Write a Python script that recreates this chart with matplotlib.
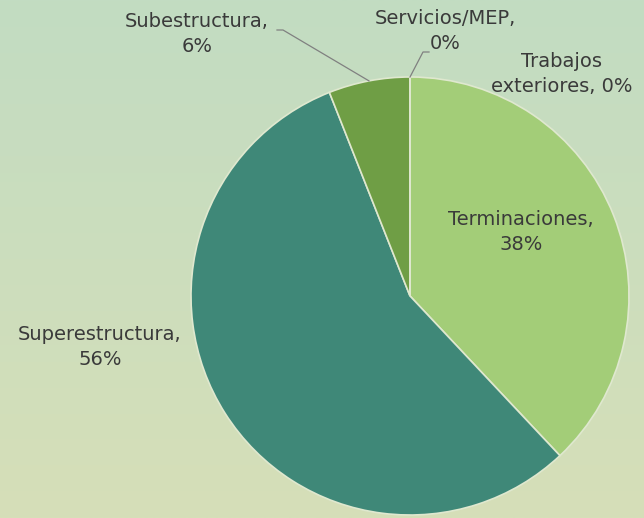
import numpy as np
import matplotlib.pyplot as plt

categories = ['Terminaciones', 'Superestructura', 'Subestructura', 'Servicios/MEP', 'Trabajos exteriores']
shares = [38, 56, 6, 0, 0]
colors = ['#a3cd78', '#3f8878', '#6f9e45', '#6f9e45', '#a3cd78']
label_texts = ['Terminaciones,\n38%', 'Superestructura,\n56%', 'Subestructura,\n6%',
               'Servicios/MEP,\n0%', 'Trabajos\nexteriores, 0%']
# label centres in pixels (y measured up from the bottom)
label_xy = [(521, 286), (100, 171), (197, 484), (445, 487), (562, 444)]

W, H = 644, 518
cx, cy, r = 410, 222, 219

fig = plt.figure(figsize=(W / 100, H / 100), dpi=100)
ax = fig.add_axes([0, 0, 1, 1])

# background gradient, light green at the top to pale yellow-green at the bottom
top = np.array([194, 220, 194]) / 255
bot = np.array([214, 223, 184]) / 255
t = np.linspace(0, 1, 256)[:, None]
grad = (top * (1 - t) + bot * t)[:, None, :]
ax.imshow(grad, extent=[0, W, 0, H], aspect='auto', zorder=0)

wedges, _ = ax.pie(shares, colors=colors, startangle=90, counterclock=False,
                   center=(cx, cy), radius=r,
                   wedgeprops=dict(edgecolor='#dfe8cf', linewidth=1.2, zorder=2))
for w in wedges:
    w.set_zorder(2)

ax.set_xlim(0, W)
ax.set_ylim(0, H)
ax.set_aspect('auto')
ax.axis('off')

for txt, (x, y) in zip(label_texts, label_xy):
    ax.text(x, y, txt, ha='center', va='center', fontsize=14, color='#3a3a3a',
            family='DejaVu Sans', linespacing=1.35, zorder=3)

# leader lines for the small slices
cum = np.cumsum([0] + shares)
for i, (lx, ly) in [(2, (283, 488)), (3, (423, 466))]:
    mid = (cum[i] + shares[i] / 2) / 100 * 2 * np.pi
    px, py = cx + r * np.sin(mid), cy + r * np.cos(mid)
    end = lx - 6 if i == 2 else lx + 6
    ax.plot([px, lx, end], [py, ly, ly], color='#808080', lw=0.9, zorder=3)

fig.savefig('out.png', dpi=100)
